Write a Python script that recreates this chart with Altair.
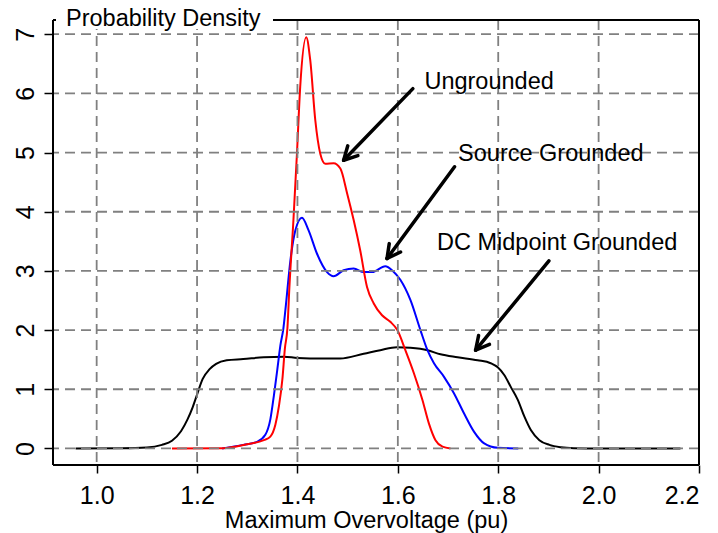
import math
import altair as alt
import pandas as pd

# ---------------- data ----------------
black_x = [0.958, 1.05, 1.10, 1.13, 1.15, 1.168, 1.181, 1.191, 1.200, 1.211, 1.225, 1.238,
           1.259, 1.292, 1.333, 1.373, 1.40, 1.45, 1.485, 1.532, 1.565, 1.598, 1.625, 1.659,
           1.685, 1.719, 1.759, 1.785, 1.799, 1.812, 1.825, 1.839, 1.852, 1.865, 1.882, 1.902,
           1.925, 1.95, 2.00, 2.163]
black_y = [0.0, 0.003, 0.015, 0.06, 0.13, 0.29, 0.49, 0.69, 0.91, 1.17, 1.34, 1.43,
           1.49, 1.51, 1.54, 1.55, 1.53, 1.52, 1.52, 1.60, 1.66, 1.71, 1.70, 1.66,
           1.59, 1.54, 1.49, 1.44, 1.37, 1.24, 1.04, 0.82, 0.54, 0.31, 0.14, 0.06,
           0.02, 0.005, 0.0, 0.0]

blue_x = [1.25, 1.292, 1.319, 1.336, 1.346, 1.353, 1.360, 1.366, 1.372, 1.376, 1.386, 1.396,
          1.409, 1.422, 1.439, 1.459, 1.472, 1.492, 1.512, 1.532, 1.549, 1.575, 1.590, 1.605,
          1.625, 1.645, 1.659, 1.672, 1.692, 1.712, 1.732, 1.752, 1.772, 1.799, 1.84]
blue_y = [0.0, 0.06, 0.11, 0.23, 0.49, 0.89, 1.34, 1.74, 2.03, 2.34, 3.18, 3.69,
          3.90, 3.69, 3.29, 2.98, 2.91, 3.01, 3.04, 2.98, 2.98, 3.08, 3.00, 2.85,
          2.51, 2.00, 1.66, 1.44, 1.21, 0.93, 0.59, 0.28, 0.085, 0.01, 0.0]

red_x = [1.15, 1.252, 1.299, 1.333, 1.346, 1.356, 1.363, 1.370, 1.375, 1.380, 1.384, 1.392,
         1.399, 1.4055, 1.4175, 1.4255, 1.4355, 1.4455, 1.4555, 1.472, 1.4855, 1.499, 1.512,
         1.525, 1.5386, 1.552, 1.5685, 1.585, 1.599, 1.615, 1.632, 1.649, 1.662, 1.675, 1.689,
         1.705]
red_y = [0.0, 0.005, 0.07, 0.14, 0.20, 0.40, 0.71, 1.17, 1.69, 2.03, 2.73, 3.86,
         4.98, 6.11, 6.95, 6.56, 5.55, 4.98, 4.81, 4.82, 4.73, 4.31, 3.86,
         3.35, 2.73, 2.45, 2.25, 2.14, 2.00, 1.66, 1.27, 0.82, 0.42, 0.14, 0.03,
         0.0]

series_names = ["DC Midpoint Grounded", "Source Grounded", "Ungrounded"]
series_colors = ["#000000", "#0000FF", "#FF0000"]

x_ticks = [1.0, 1.2, 1.4, 1.6, 1.8, 2.0, 2.2]
y_ticks = [0, 1, 2, 3, 4, 5, 6, 7]

ann_text = ["Ungrounded", "Source Grounded", "DC Midpoint Grounded"]
ann_x = [1.653, 1.720, 1.678]
ann_y = [6.19, 4.97, 3.47]
arrow_x0 = [1.630, 1.713, 1.901]
arrow_y0 = [6.08, 4.76, 3.17]
arrow_x1 = [1.492, 1.5785, 1.755]
arrow_y1 = [4.87, 3.21, 1.66]

y_title = "Probability Density"
x_title = "Maximum Overvoltage (pu)"

# ---------------- layout ----------------
W, H = 646, 445
X_DOM = [0.913, 2.2]
Y_DOM = [-0.28, 7.24]
FONT = "Liberation Sans"

xs = alt.Scale(domain=X_DOM, nice=False, zero=False)
ys = alt.Scale(domain=Y_DOM, nice=False, zero=False)

x_axis = alt.Axis(values=x_ticks, format=".1f", grid=False, domain=False,
                  tickColor="black", tickSize=8, tickWidth=1.5,
                  labelFont=FONT, labelFontSize=25, labelColor="black", labelPadding=10,
                  title=x_title, titleFont=FONT, titleFontSize=23.5,
                  titleFontWeight="normal", titleColor="black",
                  titleX=313, titleY=62, titleAlign="center",
                  titleBaseline="alphabetic")
y_axis = alt.Axis(values=y_ticks, format="d", grid=False, domain=False,
                  tickColor="black", tickSize=9, tickWidth=1.5,
                  labelFont=FONT, labelFontSize=25, labelColor="black",
                  labelAngle=270, labelAlign="center", labelBaseline="alphabetic",
                  labelPadding=11, title="")


def X(field):
    return alt.X(field, scale=xs, axis=x_axis, title=x_title)


def Y(field):
    return alt.Y(field, scale=ys, axis=y_axis, title="")


rows = []
for name, xv, yv in zip(series_names, [black_x, blue_x, red_x], [black_y, blue_y, red_y]):
    for i, (a, b) in enumerate(zip(xv, yv)):
        rows.append({"series": name, "v": a, "d": b, "i": i})
curves = pd.DataFrame(rows)

lines = alt.Chart(curves).mark_line(strokeWidth=2, interpolate="monotone").encode(
    x=X("v:Q"),
    y=Y("d:Q"),
    color=alt.Color("series:N", scale=alt.Scale(domain=series_names, range=series_colors),
                    legend=None),
    detail="series:N",
    order="i:Q",
)

grid_x = alt.Chart(pd.DataFrame({"v": x_ticks})).mark_rule(
    color="#808080", strokeWidth=1.8, strokeDash=[10, 6]
).encode(x=X("v:Q"))

grid_y = alt.Chart(pd.DataFrame({"d": y_ticks})).mark_rule(
    color="#808080", strokeWidth=1.8, strokeDash=[10, 6]
).encode(y=Y("d:Q"))

# arrows: shaft + two head wings, computed in pixel space
sx = W / (X_DOM[1] - X_DOM[0])
sy = H / (Y_DOM[1] - Y_DOM[0])
L = 15.0
phi = math.radians(28)
seg = []
for x0, y0, x1, y1 in zip(arrow_x0, arrow_y0, arrow_x1, arrow_y1):
    seg.append({"v": x0, "d": y0, "v2": x1, "d2": y1})
    ang = math.atan2(-(y1 - y0) * sy, (x1 - x0) * sx)
    for s in (1, -1):
        wa = ang + s * phi
        wx = x1 - L * math.cos(wa) / sx
        wy = y1 + L * math.sin(wa) / sy
        seg.append({"v": x1, "d": y1, "v2": wx, "d2": wy})
arrows = alt.Chart(pd.DataFrame(seg)).mark_rule(
    color="black", strokeWidth=3.5, strokeCap="round"
).encode(x=X("v:Q"), y=Y("d:Q"), x2="v2:Q", y2="d2:Q")

ann = alt.Chart(pd.DataFrame({"t": ann_text, "v": ann_x, "d": ann_y})).mark_text(
    align="left", baseline="middle", font=FONT, fontSize=23.5, color="black"
).encode(x=X("v:Q"), y=Y("d:Q"), text="t:N")

one = pd.DataFrame({"k": [0]})
title_bg = alt.Chart(one).mark_rect(color="white").encode(
    x=alt.value(3), x2=alt.value(220), y=alt.value(-20), y2=alt.value(9)
)
title_txt = alt.Chart(one).mark_text(
    align="left", baseline="alphabetic", font=FONT, fontSize=23.5, color="black"
).encode(x=alt.value(13), y=alt.value(6), text=alt.value(y_title))


def frame(**kw):
    return alt.Chart(one).mark_rule(color="black", strokeWidth=2).encode(**kw)


frame_layers = [
    frame(x=alt.value(0), y=alt.value(0), y2=alt.value(H)),
    frame(x=alt.value(W), y=alt.value(0), y2=alt.value(H)),
    frame(y=alt.value(H), x=alt.value(0), x2=alt.value(W)),
    frame(y=alt.value(0), x=alt.value(0), x2=alt.value(3)),
    frame(y=alt.value(0), x=alt.value(220), x2=alt.value(W)),
]

chart = alt.layer(
    lines, grid_x, grid_y, arrows, ann, title_bg, title_txt, *frame_layers
).properties(
    width=W, height=H,
    autosize=alt.AutoSizeParams(type="none"),
    padding={"left": 53, "top": 20, "right": 19, "bottom": 68},
    background="white",
).configure_view(stroke=None)

chart.save("out.html", embed_options={"renderer": "svg", "actions": False})
